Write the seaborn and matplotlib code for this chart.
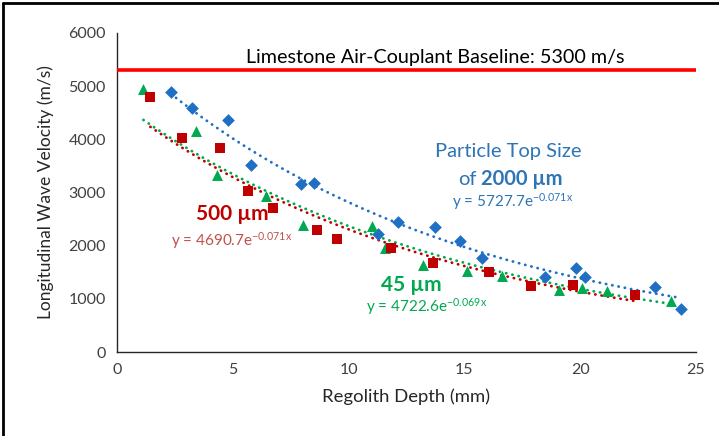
import numpy as np
import pandas as pd
import matplotlib
matplotlib.use("Agg")
import matplotlib.pyplot as plt
import seaborn as sns

# ---- data ----
depth_2000 = [2.33, 3.23, 4.79, 5.79, 7.93, 8.51, 11.26, 12.15, 13.73, 14.80, 15.75, 18.48, 19.81, 20.22, 23.23, 24.35]
vel_2000 = [4885, 4595, 4364, 3512, 3154, 3173, 2225, 2436, 2346, 2094, 1768, 1411, 1586, 1411, 1228, 809]

depth_500 = [1.44, 2.82, 4.43, 5.67, 6.74, 8.64, 9.51, 11.83, 13.63, 16.06, 17.86, 19.68, 22.38]
vel_500 = [4791, 4020, 3843, 3034, 2714, 2295, 2116, 1951, 1668, 1499, 1247, 1260, 1072]

depth_45 = [1.14, 3.42, 4.32, 6.43, 8.04, 11.00, 11.57, 13.20, 15.10, 16.62, 19.07, 20.08, 21.14, 23.91]
vel_45 = [4947, 4163, 3324, 2934, 2395, 2370, 1947, 1627, 1529, 1430, 1166, 1204, 1153, 965]

fit_a = {"2000": 5727.7, "500": 4690.7, "45": 4722.6}
fit_b = {"2000": -0.071, "500": -0.071, "45": -0.069}
baseline = 5300
x_ticks = [0, 5, 10, 15, 20, 25]
y_ticks = [0, 1000, 2000, 3000, 4000, 5000, 6000]

colors = {"2000": "#1F6FC5", "500": "#C00000", "45": "#00A850"}
markers = {"2000": "D", "500": "s", "45": "^"}

sns.set_theme(style="white")
plt.rcParams["font.family"] = ["Lato", "DejaVu Sans"]
plt.rcParams["mathtext.fontset"] = "custom"
plt.rcParams["mathtext.rm"] = "Lato"
plt.rcParams["mathtext.it"] = "Lato"
plt.rcParams["mathtext.bf"] = "Lato:bold"

df = pd.concat([
    pd.DataFrame({"depth": depth_2000, "vel": vel_2000, "size": "2000"}),
    pd.DataFrame({"depth": depth_500, "vel": vel_500, "size": "500"}),
    pd.DataFrame({"depth": depth_45, "vel": vel_45, "size": "45"}),
], ignore_index=True)

# trend lines from the displayed equations over each data range
trend_rows = []
for key, xs in (("2000", depth_2000), ("45", depth_45), ("500", depth_500)):
    xx = np.linspace(min(xs), max(xs), 200)
    trend_rows.append(pd.DataFrame({"depth": xx, "vel": fit_a[key] * np.exp(fit_b[key] * xx), "size": key}))
trend = pd.concat(trend_rows, ignore_index=True)

fig = plt.figure(figsize=(7.19, 4.36), dpi=100)
ax = fig.add_axes([117 / 719, 1 - 352 / 436, (696 - 117) / 719, (352 - 33) / 436])

for key in ("2000", "45", "500"):
    sub = trend[trend["size"] == key]
    sns.lineplot(data=sub, x="depth", y="vel", ax=ax, color=colors[key],
                 linewidth=2.0, linestyle=(0, (0.1, 2.2)), dash_capstyle="round",
                 legend=False, zorder=2)

sizes = {"2000": 42, "500": 62, "45": 62}
for key in ("2000", "45", "500"):
    sub = df[df["size"] == key]
    sns.scatterplot(data=sub, x="depth", y="vel", ax=ax, color=colors[key],
                    marker=markers[key], s=sizes[key], linewidth=0, legend=False, zorder=3)

ax.axhline(baseline, color="#FF0000", linewidth=2.6, zorder=4)
ax.text(13.73, 5530, "Limestone Air-Couplant Baseline: 5300 m/s", ha="center", va="center",
        fontsize=14.2, color="black")

ax.set_xlim(0, 25)
ax.set_ylim(0, 6000)
ax.set_xticks(x_ticks)
ax.set_yticks(y_ticks)
ax.tick_params(axis="both", labelsize=11.5, colors="#404040", length=0, pad=8)
ax.set_xlabel("Regolith Depth (mm)", fontsize=13.3, color="#262626", labelpad=8)
ax.set_ylabel("Longitudinal Wave Velocity (m/s)", fontsize=12.5, color="#262626", labelpad=10)

for s in ("top", "right"):
    ax.spines[s].set_visible(False)
for s in ("left", "bottom"):
    ax.spines[s].set_color("#262626")
    ax.spines[s].set_linewidth(1.0)

blue_txt = "#2E75B6"
fig.text(508 / 719, 1 - 152 / 436, "Particle Top Size", ha="center", va="center", fontsize=14.5, color=blue_txt)
fig.text(477 / 719, 1 - 179 / 436, "of", ha="right", va="center", fontsize=14.5, color=blue_txt)
fig.text(481 / 719, 1 - 179 / 436, "2000 µm", ha="left", va="center", fontsize=14.5, fontweight="bold", color=blue_txt)
fig.text(513 / 719, 1 - 202 / 436, r"y = 5727.7e$^{\mathrm{-0.071x}}$", ha="center", va="center", fontsize=11, color=blue_txt)

fig.text(232 / 719, 1 - 214 / 436, "500 µm", ha="center", va="center", fontsize=15, fontweight="bold", color="#C00000")
fig.text(232 / 719, 1 - 241 / 436, r"y = 4690.7e$^{\mathrm{-0.071x}}$", ha="center", va="center", fontsize=11, color="#C0504D")

fig.text(411 / 719, 1 - 285 / 436, "45 µm", ha="center", va="center", fontsize=15, fontweight="bold", color="#00A850")
fig.text(427 / 719, 1 - 307 / 436, r"y = 4722.6e$^{\mathrm{-0.069x}}$", ha="center", va="center", fontsize=11, color="#00A850")

# outer frame (left and top edges)
fig.add_artist(plt.Line2D([3 / 719, 3 / 719], [0, 1 - 3 / 436], transform=fig.transFigure, color="black", linewidth=2))
fig.add_artist(plt.Line2D([3 / 719, 1], [1 - 3 / 436, 1 - 3 / 436], transform=fig.transFigure, color="black", linewidth=2))

fig.savefig("out.png", dpi=100)
